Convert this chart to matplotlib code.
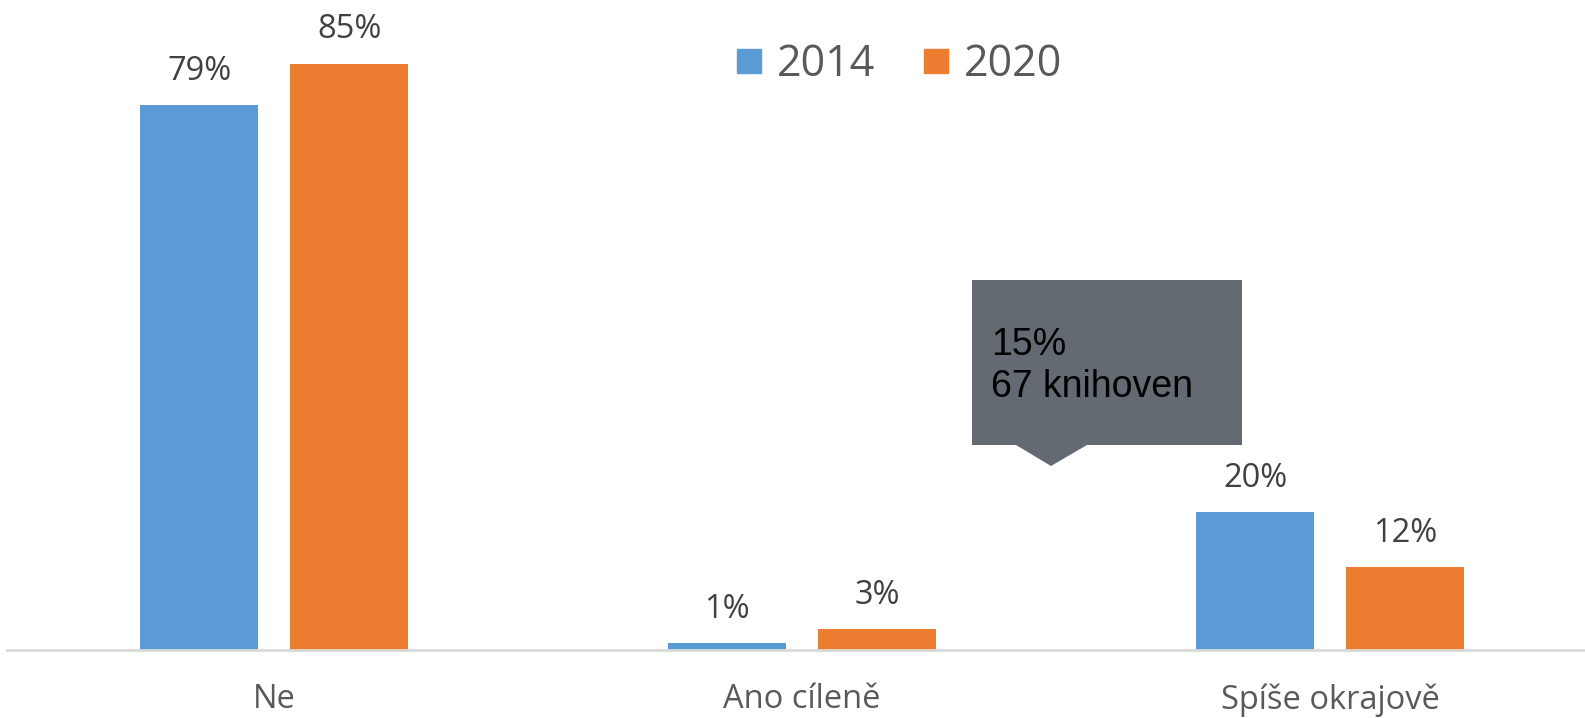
import matplotlib.pyplot as plt
from matplotlib.lines import Line2D
from matplotlib.patches import Polygon
import numpy as np

# ------------------------------------------------
#  Data
# ------------------------------------------------
categories = ["Ne", "Ano cíleně", "Spíše okrajově"]
years = ["2014", "2020"]
values_2014 = [79, 1, 20]
values_2020 = [85, 3, 12]
tooltip_text = "15%\n67 knihoven"

# ------------------------------------------------
#  Style
# ------------------------------------------------
COLORS = {"2014": "#5B9BD5", "2020": "#ED7D31"}
FONT = "Open Sans"
W, H = 1585, 718

plt.rcParams["font.family"] = [FONT, "DejaVu Sans"]

fig = plt.figure(figsize=(W / 100, H / 100), dpi=100)
ax = fig.add_axes([7 / W, 68 / H, (W - 7) / W, 621 / H])

x = np.arange(len(categories))
width = 0.2235
offset = 0.142

for vals, yr, sign in [(values_2014, "2014", -1), (values_2020, "2020", 1)]:
    bars = ax.bar(x + sign * offset, vals, width, color=COLORS[yr], zorder=2)
    for b, v in zip(bars, vals):
        ax.annotate(f"{v}%", (b.get_x() + b.get_width() / 2, b.get_height()),
                    xytext=(0, 12.5), textcoords="offset points",
                    ha="center", va="bottom", fontsize=23.5, color="#404040")

ax.set_xlim(-0.506, 2.483)
ax.set_ylim(0, 90)
ax.set_yticks([])
ax.set_xticks(x)
ax.set_xticklabels(categories, fontsize=23.5, color="#595959")
ax.tick_params(axis="x", length=0, pad=24)
for s in ["top", "left", "right"]:
    ax.spines[s].set_visible(False)
ax.spines["bottom"].set_color("#D9D9D9")
ax.spines["bottom"].set_linewidth(2)

# legend
handles = [Line2D([], [], marker="s", linestyle="none", markersize=17,
                  color=COLORS[yr]) for yr in years]
fig.legend(handles, years, loc="center", bbox_to_anchor=(899 / W, 1 - 65 / H),
           ncol=2, frameon=False, fontsize=31, labelcolor="#595959",
           handlelength=0.6, handletextpad=0.35, columnspacing=1.1)

# tooltip box (figure pixel coords -> fraction)
def px(xp, yp):
    return (xp / W, 1 - yp / H)

box = [px(972, 280), px(1242, 280), px(1242, 445), px(1087, 445),
       px(1051, 466), px(1016, 445), px(972, 445)]
fig.patches.append(Polygon(box, closed=True, transform=fig.transFigure,
                           facecolor="#646A72", edgecolor="none", zorder=5))
tx, ty = px(991, 327)
fig.text(tx, ty, tooltip_text, ha="left", va="top", fontsize=27,
         family=["Liberation Sans", "DejaVu Sans"], color="black",
         linespacing=1.2, zorder=6)

fig.savefig("out.png", dpi=100)
